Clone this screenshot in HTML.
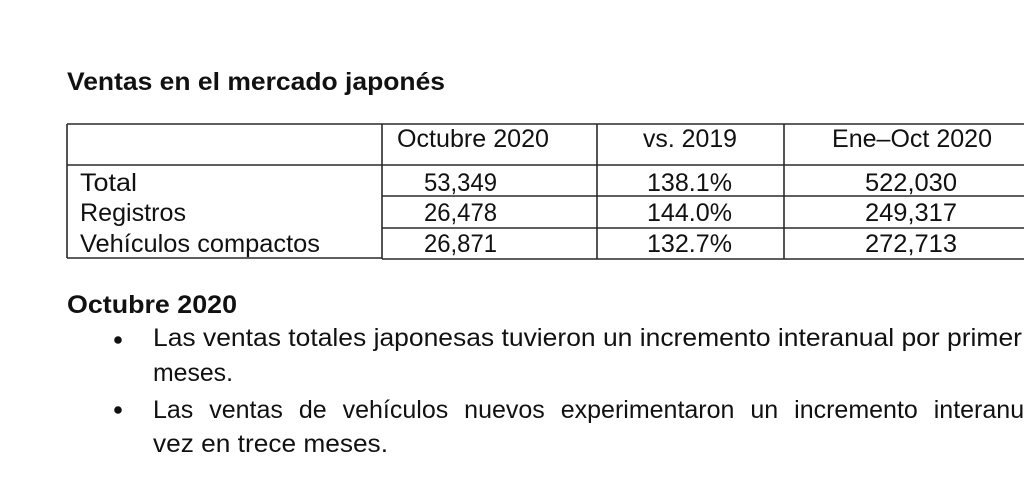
<!DOCTYPE html>
<html><head><meta charset="utf-8"><style>
html,body{margin:0;padding:0;background:#fff;overflow:hidden;width:1024px;height:498px}
svg{display:block}
text{font-family:"Liberation Sans",Arial,sans-serif;font-size:25px;fill:#111}
.b{font-weight:bold}
</style></head><body>
<svg width="1024" height="498" viewBox="0 0 1024 498" xmlns="http://www.w3.org/2000/svg">
<text class="b" x="67" y="90" textLength="378" lengthAdjust="spacingAndGlyphs">Ventas en el mercado japonés</text>
<g stroke="#2a2a2a" stroke-width="1.6" fill="none">
<line x1="67" y1="124" x2="1024" y2="124"/>
<line x1="67" y1="165" x2="1024" y2="165"/>
<line x1="382" y1="196" x2="1024" y2="196"/>
<line x1="382" y1="228" x2="1024" y2="228"/>
<line x1="67" y1="258" x2="382" y2="258"/>
<line x1="382" y1="259" x2="1024" y2="259"/>
<line x1="67" y1="124" x2="67" y2="258"/>
<line x1="382" y1="124" x2="382" y2="259"/>
<line x1="597" y1="124" x2="597" y2="259"/>
<line x1="784" y1="124" x2="784" y2="259"/>
</g>
<text x="397" y="147" textLength="152" lengthAdjust="spacingAndGlyphs">Octubre 2020</text>
<text x="643" y="147" textLength="94" lengthAdjust="spacingAndGlyphs">vs. 2019</text>
<text x="832" y="147" textLength="160" lengthAdjust="spacingAndGlyphs">Ene–Oct 2020</text>
<text x="80" y="191" textLength="57" lengthAdjust="spacingAndGlyphs">Total</text>
<text x="424" y="191" textLength="73" lengthAdjust="spacingAndGlyphs">53,349</text>
<text x="647" y="191" textLength="85" lengthAdjust="spacingAndGlyphs">138.1%</text>
<text x="865" y="191" textLength="92" lengthAdjust="spacingAndGlyphs">522,030</text>
<text x="80" y="221" textLength="106" lengthAdjust="spacingAndGlyphs">Registros</text>
<text x="424" y="221" textLength="73" lengthAdjust="spacingAndGlyphs">26,478</text>
<text x="647" y="221" textLength="85" lengthAdjust="spacingAndGlyphs">144.0%</text>
<text x="865" y="221" textLength="92" lengthAdjust="spacingAndGlyphs">249,317</text>
<text x="80" y="252" textLength="240" lengthAdjust="spacingAndGlyphs">Vehículos compactos</text>
<text x="424" y="252" textLength="73" lengthAdjust="spacingAndGlyphs">26,871</text>
<text x="647" y="252" textLength="85" lengthAdjust="spacingAndGlyphs">132.7%</text>
<text x="865" y="252" textLength="92" lengthAdjust="spacingAndGlyphs">272,713</text>
<text class="b" x="67" y="313" textLength="170" lengthAdjust="spacingAndGlyphs">Octubre 2020</text>
<circle cx="118" cy="340" r="3.8" fill="#111"/>
<circle cx="118" cy="410" r="3.8" fill="#111"/>
<text x="153" y="346" textLength="869" lengthAdjust="spacingAndGlyphs">Las ventas totales japonesas tuvieron un incremento interanual por primer</text>
<text x="153" y="381" textLength="80" lengthAdjust="spacingAndGlyphs">meses.</text>
<text x="153" y="418" word-spacing="9">Las ventas de vehículos nuevos experimentaron un incremento interanual</text>
<text x="153" y="452" textLength="235" lengthAdjust="spacingAndGlyphs">vez en trece meses.</text>
</svg>
</body></html>
